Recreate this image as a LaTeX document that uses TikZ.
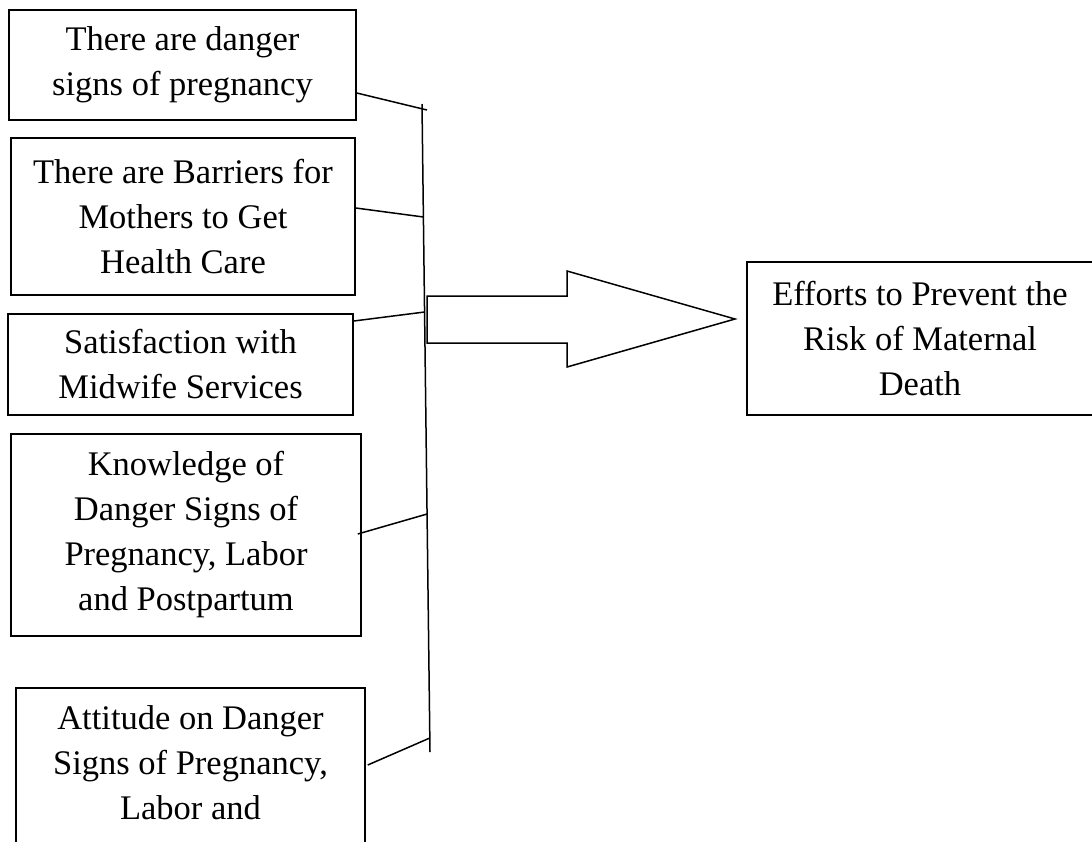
\documentclass[tikz,border=0pt]{standalone}
\usepackage{fontspec}
\setmainfont{Liberation Serif}
\begin{document}
\begin{tikzpicture}[x=1pt,y=-1pt,
  box/.style={draw=black,line width=1.5pt,rectangle,inner sep=0pt,align=center,
    font=\fontsize{34.5}{45}\selectfont},
  conn/.style={draw=black,line width=1.5pt},
  bigarrow/.style={draw=black,line width=1.5pt,fill=white,line join=miter}]
\clip (0,0) rectangle (1092,841);
\fill[white] (0,0) rectangle (1092,841);
% left boxes
\node[box,minimum width=347pt,minimum height=110pt] (b1) at (182.5,65)
  {There are danger\\signs of pregnancy};
\node[box,minimum width=344pt,minimum height=157pt] (b2) at (183,216.5)
  {There are Barriers for\\Mothers to Get\\Health Care};
\node[box,minimum width=345pt,minimum height=101pt] (b3) at (180.5,364.5)
  {Satisfaction with\\Midwife Services};
\node[box,minimum width=350pt,minimum height=202pt] (b4) at (186,535)
  {Knowledge of\\Danger Signs of\\Pregnancy, Labor\\and Postpartum};
\node[box,minimum width=349pt,minimum height=202pt] (b5) at (190.5,789)
  {Attitude on Danger\\Signs of Pregnancy,\\Labor and\\\vphantom{Postpartum}};
% target box
\node[box,minimum width=346pt,minimum height=153pt] (tg) at (920,338.5)
  {Efforts to Prevent the\\Risk of Maternal\\Death};
% vertical collector line
\coordinate (vt) at (422,104);
\coordinate (vb) at (430,752);
\draw[conn] (vt) -- (vb);
\coordinate (j1) at (427,110);
\coordinate (j2) at (423.4,217);
\coordinate (j3) at (424.6,312);
\coordinate (j4) at (427.1,514);
\coordinate (j5) at (429.8,738);
\draw[conn] ([yshift=-28pt]b1.east) -- (j1);
\draw[conn] ([yshift=8.5pt]b2.east) -- (j2);
\draw[conn] ([yshift=43.5pt]b3.east) -- (j3);
\draw[conn] ([xshift=-4pt,yshift=1pt]b4.east) -- (j4);
\draw[conn] ([xshift=2pt,yshift=24pt]b5.east) -- (j5);
% block arrow
\draw[bigarrow] (427,296) -- (567,296) -- (567,271) -- (735,319)
  -- (567,367) -- (567,343) -- (427,343) -- cycle;
\end{tikzpicture}
\end{document}
